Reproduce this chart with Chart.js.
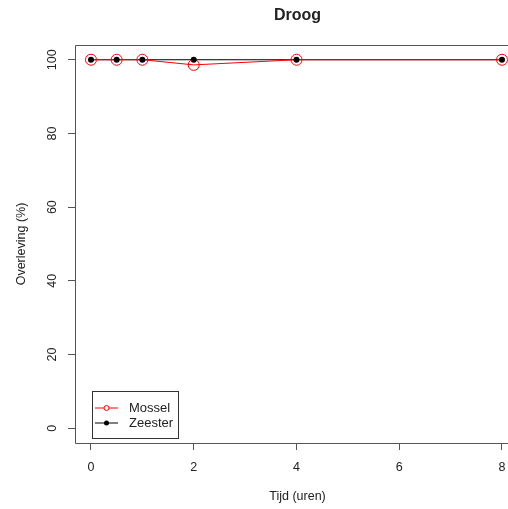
<!DOCTYPE html>
<html>
<head>
<meta charset="utf-8">
<script src="https://cdn.jsdelivr.net/npm/chart.js@4"></script>
<style>
  html, body { margin: 0; padding: 0; background: #fff; }
  #wrap { width: 508px; height: 509px; }
</style>
</head>
<body>
<div id="wrap"><canvas id="c" width="508" height="509"></canvas></div>
<script>
// Gegevens
const tijd     = [0, 0.5, 1, 2, 4, 8];
const mossel   = [100, 100, 100, 98.6, 100, 100];
const zeester  = [100, 100, 100, 100, 100, 100];
const xTicks   = [0, 2, 4, 6, 8];
const yTicks   = [0, 20, 40, 60, 80, 100];

const FONT = '"Liberation Sans", Arial, sans-serif';
const pts = arr => arr.map((v, i) => ({ x: tijd[i], y: v }));

// Titels, y-labels, kader en legenda
const extras = {
  id: 'extras',
  afterDraw(chart) {
    const { ctx, chartArea: a, scales: { y } } = chart;
    ctx.save();
    // kader (rechterkant valt buiten beeld)
    ctx.strokeStyle = '#555';
    ctx.lineWidth = 1;
    ctx.beginPath();
    ctx.moveTo(chart.width, a.top + 0.5);
    ctx.lineTo(a.left + 0.5, a.top + 0.5);
    ctx.lineTo(a.left + 0.5, a.bottom + 0.5);
    ctx.lineTo(chart.width, a.bottom + 0.5);
    ctx.stroke();

    ctx.fillStyle = '#222';
    const cx = 297.5;
    // titel
    ctx.font = 'bold 16px ' + FONT;
    ctx.textAlign = 'center';
    ctx.textBaseline = 'middle';
    ctx.fillText('Droog', cx, 16);
    // x-as titel
    ctx.font = '12.5px ' + FONT;
    ctx.fillText('Tijd (uren)', cx, 497);
    // y tick labels (gedraaid)
    yTicks.forEach(v => {
      ctx.save();
      ctx.translate(53, y.getPixelForValue(v));
      ctx.rotate(-Math.PI / 2);
      ctx.fillText(String(v), 0, 0);
      ctx.restore();
    });
    // y-as titel
    ctx.save();
    ctx.translate(22, (a.top + a.bottom) / 2);
    ctx.rotate(-Math.PI / 2);
    ctx.fillText('Overleving (%)', 0, 0);
    ctx.restore();

    // legenda
    const lx = 92, ly = 391, lw = 86, lh = 47;
    ctx.strokeStyle = '#333';
    ctx.strokeRect(lx + 0.5, ly + 0.5, lw, lh);
    const items = [
      { label: 'Mossel', color: 'red', fill: false },
      { label: 'Zeester', color: '#000', fill: true }
    ];
    ctx.textAlign = 'left';
    ctx.font = '13px ' + FONT;
    items.forEach((it, i) => {
      const yy = ly + 17 + i * 15;
      ctx.strokeStyle = it.color;
      ctx.beginPath();
      ctx.moveTo(lx + 3, yy);
      ctx.lineTo(lx + 26, yy);
      ctx.stroke();
      ctx.beginPath();
      ctx.arc(lx + 14.5, yy, 2.5, 0, Math.PI * 2);
      if (it.fill) { ctx.fillStyle = it.color; ctx.fill(); }
      else { ctx.fillStyle = '#fff'; ctx.fill(); ctx.stroke(); }
      ctx.fillStyle = '#222';
      ctx.fillText(it.label, lx + 37, yy);
    });
    ctx.restore();
  }
};

new Chart(document.getElementById('c'), {
  type: 'line',
  data: {
    datasets: [
      {
        label: 'Zeester lijn',
        data: pts(zeester),
        borderColor: '#000',
        borderWidth: 1,
        pointRadius: 0,
        tension: 0,
        order: 3
      },
      {
        label: 'Mossel',
        data: pts(mossel),
        borderColor: 'red',
        borderWidth: 1,
        pointRadius: 5.5,
        pointBorderWidth: 1,
        pointBackgroundColor: 'rgba(0,0,0,0)',
        pointBorderColor: 'red',
        tension: 0,
        order: 2
      },
      {
        label: 'Zeester',
        data: pts(zeester),
        showLine: false,
        pointRadius: 3,
        pointBorderWidth: 0,
        pointBackgroundColor: '#000',
        order: 1
      }
    ]
  },
  options: {
    responsive: false,
    animation: false,
    layout: { autoPadding: false, padding: { top: 45, right: 0, left: 0, bottom: 0 } },
    plugins: { legend: { display: false }, tooltip: { enabled: false } },
    scales: {
      x: {
        type: 'linear',
        min: -0.311, max: 8.117,
        afterBuildTicks: s => { s.ticks = xTicks.map(v => ({ value: v })); },
        afterFit: s => { s.height = 66; s.paddingRight = 0; s.paddingLeft = 0; },
        grid: { drawOnChartArea: false, tickLength: 7, color: '#555' },
        border: { display: false },
        ticks: { color: '#222', font: { family: FONT, size: 12.5 }, padding: 10, maxRotation: 0 }
      },
      y: {
        type: 'linear',
        min: -4, max: 104,
        afterBuildTicks: s => { s.ticks = yTicks.map(v => ({ value: v })); },
        afterFit: s => { s.width = 75; },
        grid: { drawOnChartArea: false, tickLength: 7, color: '#555' },
        border: { display: false },
        ticks: { display: false }
      }
    }
  },
  plugins: [extras]
});
</script>
</body>
</html>
